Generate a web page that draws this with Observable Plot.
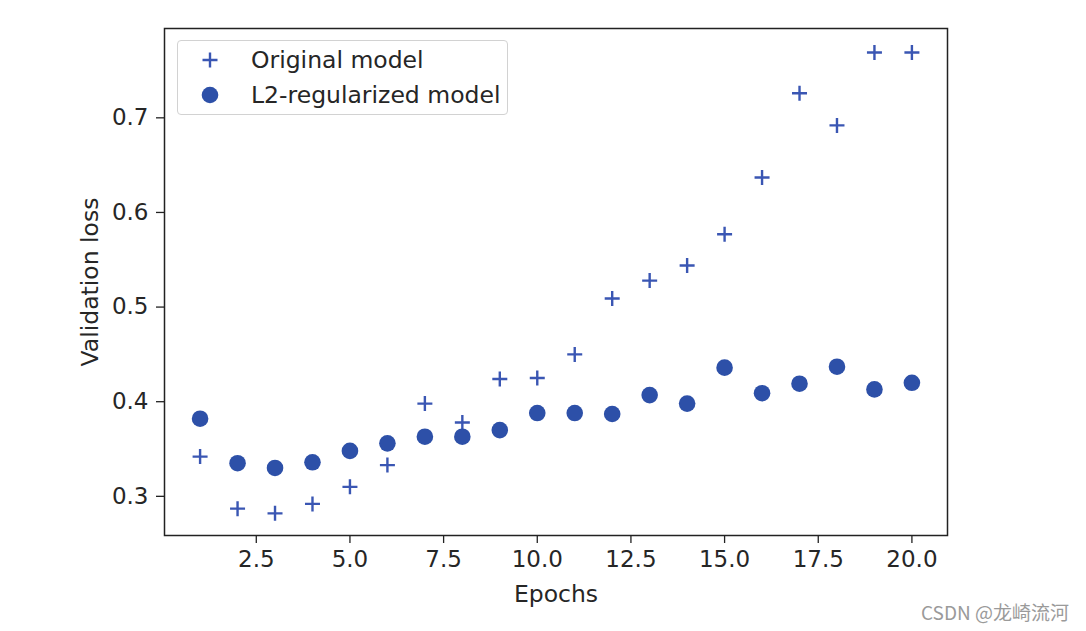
<!DOCTYPE html>
<html>
<head>
<meta charset="utf-8">
<script src="https://cdn.jsdelivr.net/npm/d3@7"></script>
<script src="https://cdn.jsdelivr.net/npm/@observablehq/plot@0.6"></script>
<style>
  html, body { margin: 0; padding: 0; background: #fff; }
  #wrap { position: relative; width: 1086px; height: 631px; overflow: hidden; }
  #legend { position: absolute; left: 177px; top: 40px; width: 329px; height: 73px;
    border: 1.5px solid #d2d2d2; border-radius: 4px; background: #fff;
    font-family: "DejaVu Sans", sans-serif; font-size: 23.5px; color: #262626; }
  #legend .row { position: absolute; left: 0; height: 30px; display: flex; align-items: center; }
  #legend svg { position: absolute; left: 17px; }
  #legend span { position: absolute; left: 73px; white-space: nowrap; }
  #wm { position: absolute; left: 921px; top: 598px; font-family: "Noto Sans CJK SC", "Noto Sans", sans-serif;
    font-size: 19px; color: #9a9a9a; white-space: nowrap; }
</style>
</head>
<body>
<div id="wrap"></div>
<script>
const epochs = [1,2,3,4,5,6,7,8,9,10,11,12,13,14,15,16,17,18,19,20];
const originalLoss = [0.342,0.287,0.282,0.292,0.310,0.333,0.398,0.378,0.424,0.425,0.450,0.509,0.528,0.544,0.577,0.637,0.726,0.692,0.769,0.769];
const l2Loss = [0.382,0.335,0.330,0.336,0.348,0.356,0.363,0.363,0.370,0.388,0.388,0.387,0.407,0.398,0.436,0.409,0.419,0.437,0.413,0.420];
const xTicks = [2.5,5.0,7.5,10.0,12.5,15.0,17.5,20.0];
const yTicks = [0.3,0.4,0.5,0.6,0.7];
const seriesNames = ["Original model", "L2-regularized model"];
const xLabel = "Epochs";
const yLabel = "Validation loss";

const plusColor = "#3a56b3";
const dotColor = "#2d50a8";

const origData = epochs.map((e, i) => ({epoch: e, loss: originalLoss[i]}));
const l2Data = epochs.map((e, i) => ({epoch: e, loss: l2Loss[i]}));

const plusSymbol = {
  draw(context, size) {
    const r = Math.sqrt(size / Math.PI);
    context.moveTo(-r, 0); context.lineTo(r, 0);
    context.moveTo(0, -r); context.lineTo(0, r);
  }
};

const chart = Plot.plot({
  width: 1086,
  height: 631,
  marginLeft: 164,
  marginRight: 139,
  marginTop: 28,
  marginBottom: 96,
  style: {fontFamily: "DejaVu Sans, sans-serif", fontSize: "23px", color: "#262626", background: "#fff"},
  x: {domain: [0.05, 20.95], label: null},
  y: {domain: [0.2586, 0.7944], label: null},
  marks: [
    Plot.axisX({ticks: xTicks, tickFormat: d3.format(".1f"), tickSize: 8, tickPadding: 7, stroke: "#222", strokeWidth: 1.3}),
    Plot.axisY({ticks: yTicks, tickFormat: d3.format(".1f"), tickSize: 8, tickPadding: 8, stroke: "#222", strokeWidth: 1.3}),
    Plot.dot(origData, {x: "epoch", y: "loss", symbol: plusSymbol, r: 7.5, fill: "none", stroke: plusColor, strokeWidth: 2.4}),
    Plot.dot(l2Data, {x: "epoch", y: "loss", r: 8.3, fill: dotColor, stroke: "none"}),
    Plot.frame({stroke: "#222", strokeWidth: 1.5}),
    Plot.text([xLabel], {frameAnchor: "bottom", dy: 59, lineAnchor: "middle", textAnchor: "middle", fontSize: 23.5, fill: "#262626"}),
    Plot.text([yLabel], {frameAnchor: "left", dx: -74, rotate: -90, lineAnchor: "middle", textAnchor: "middle", fontSize: 23.5, fill: "#262626"})
  ]
});

const wrap = document.getElementById("wrap");
wrap.appendChild(chart);

const legend = document.createElement("div");
legend.id = "legend";
legend.innerHTML = `
  <div class="row" style="top:4px;width:100%">
    <svg width="30" height="30" viewBox="-15 -15 30 30"><path d="M-7.5,0H7.5M0,-7.5V7.5" stroke="${plusColor}" stroke-width="2.4" fill="none"/></svg>
    <span>${seriesNames[0]}</span>
  </div>
  <div class="row" style="top:39px;width:100%">
    <svg width="30" height="30" viewBox="-15 -15 30 30"><circle r="8.3" fill="${dotColor}"/></svg>
    <span>${seriesNames[1]}</span>
  </div>`;
wrap.appendChild(legend);

const wm = document.createElement("div");
wm.id = "wm";
wm.textContent = "CSDN @龙崎流河";
wrap.appendChild(wm);
</script>
</body>
</html>
